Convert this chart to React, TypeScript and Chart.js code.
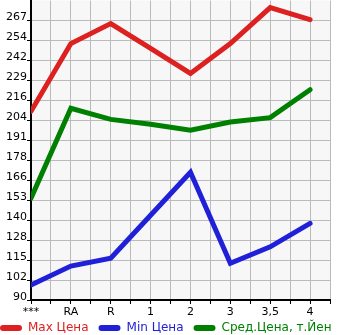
import React, { useEffect, useRef } from "react";
import { Chart, registerables } from "chart.js";

Chart.register(...registerables);

const categories = ["***", "RA", "R", "1", "2", "3", "3,5", "4"];
const maxPrice = [209.5, 252.4, 265.1, 249.3, 233.5, 252.4, 275.2, 267.6];
const minPrice = [99.5, 111.5, 116.5, 143.7, 170.9, 113.2, 123.7, 138.5];
const avgPrice = [154.5, 211.4, 204.4, 201.3, 197.5, 202.7, 205.5, 223.2];
const yTickLabels = ["90", "102", "115", "128", "140", "153", "166", "178", "191", "204", "216", "229", "242", "254", "267"];
const seriesNames = ["Max Цена", "Min Цена", "Сред.Цена, т.Йен"];

const Y_MIN = 90;
const Y_STEP = (267 - 90) / 14;
const colors = ["#dd2020", "#2020d8", "#008000"];

const bgPlugin = {
  id: "plotBg",
  afterLayout(chart: any) {
    if (chart.legend) {
      chart.legend.top -= 8;
      chart.legend.bottom -= 8;
    }
  },
  beforeDraw(chart: any) {
    const { ctx, chartArea } = chart;
    ctx.save();
    ctx.fillStyle = "#f7f7f7";
    ctx.fillRect(chartArea.left, chartArea.top, chartArea.right - chartArea.left, chartArea.bottom - chartArea.top);
    ctx.restore();
  },
};

export default function App() {
  const ref = useRef<HTMLCanvasElement>(null);
  useEffect(() => {
    document.body.style.margin = "0";
    const series = [maxPrice, minPrice, avgPrice];
    const chart = new Chart(ref.current!, {
      type: "line",
      data: {
        datasets: series.map((s, k) => ({
          label: seriesNames[k],
          data: s.map((v, i) => ({ x: i, y: v })),
          borderColor: colors[k],
          backgroundColor: colors[k],
          borderWidth: 5,
          pointRadius: 0,
          tension: 0,
          borderCapStyle: "round",
          yAxisID: "y",
        })),
      },
      options: {
        animation: false,
        responsive: false,
        layout: { padding: { left: -10, right: 0, top: 0, bottom: -17 } },
        plugins: {
          tooltip: { enabled: false },
          legend: {
            position: "bottom",
            align: "start",
            labels: {
              boxWidth: 22,
              boxHeight: 6,
              useBorderRadius: true,
              borderRadius: 3,
              padding: 10,
              font: { family: "DejaVu Sans", size: 12 },
              generateLabels: (chart: any) =>
                chart.data.datasets.map((d: any, i: number) => ({
                  text: d.label,
                  fillStyle: colors[i],
                  strokeStyle: colors[i],
                  lineWidth: 0,
                  fontColor: colors[i],
                  datasetIndex: i,
                  hidden: false,
                  borderRadius: 3,
                })),
            },
          },
        },
        scales: {
          x: {
            type: "linear",
            min: 0,
            max: 7.5,
            afterBuildTicks: (scale: any) => {
              const t = [];
              for (let i = 0; i <= 15; i++) t.push({ value: i * 0.5 });
              scale.ticks = t;
            },
            afterFit: (scale: any) => {
              scale.height = 20;
            },
            ticks: {
              autoSkip: false,
              maxRotation: 0,
              padding: 2,
              color: "#000",
              font: { family: "DejaVu Sans", size: 11 },
              callback: (v: any) => (Number.isInteger(v) ? categories[v] : ""),
            },
            grid: { color: "#bbbbbb", tickLength: 4, tickColor: "#000", drawTicks: true },
            border: { color: "#000", width: 2 },
          },
          y: {
            type: "linear",
            min: Y_MIN,
            max: Y_MIN + 15 * Y_STEP,
            afterBuildTicks: (scale: any) => {
              const t = [];
              for (let i = 0; i <= 15; i++) t.push({ value: Y_MIN + i * Y_STEP });
              scale.ticks = t;
            },
            afterFit: (scale: any) => {
              scale.width = 41;
            },
            ticks: {
              padding: 0,
              labelOffset: -3,
              autoSkip: false,
              color: "#000",
              font: { family: "DejaVu Sans", size: 11, lineHeight: 0.1 },
              callback: (v: any) => {
                const idx = Math.round((Number(v) - Y_MIN) / Y_STEP);
                return idx < yTickLabels.length ? yTickLabels[idx] : null;
              },
            },
            grid: {
              color: (c: any) => (c.index === 15 ? "rgba(0,0,0,0)" : "#bbbbbb"),
              tickLength: 4,
              tickColor: "#000",
            },
            border: { color: "#000", width: 2 },
          },
          yR: {
            type: "linear",
            position: "right",
            min: 0,
            max: 1,
            display: true,
            grid: { display: false, drawTicks: false },
            ticks: { display: false },
            border: { display: false },
            afterFit: (scale: any) => {
              scale.width = 15;
            },
          },
        },
      },
      plugins: [bgPlugin],
    } as any);
    return () => chart.destroy();
  }, []);
  return (
    <div style={{ position: "absolute", left: 0, top: 0, width: 345, height: 335 }}>
      <canvas ref={ref} width={345} height={335} />
    </div>
  );
}
